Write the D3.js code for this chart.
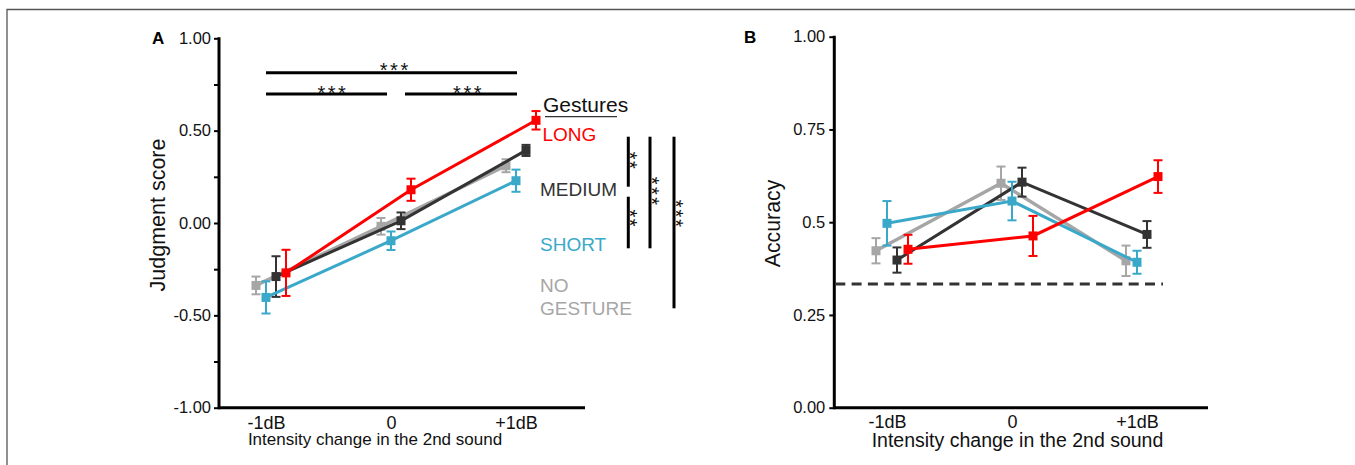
<!DOCTYPE html>
<html>
<head>
<meta charset="utf-8">
<script src="https://cdn.jsdelivr.net/npm/d3@7/dist/d3.min.js"></script>
<style>
  html, body { margin: 0; padding: 0; background: #fff; }
  svg text { font-family: "Liberation Sans", Arial, Helvetica, sans-serif; }
</style>
</head>
<body>
<svg id="chart" width="1355" height="465"></svg>
<script>
// ---------- data ----------
const categories = ["-1dB", "0", "+1dB"];
const seriesNames = ["NO GESTURE", "MEDIUM", "SHORT", "LONG"];

// Panel A: judgment score (mean, s.e.)
const judgeNone   = [-0.338, -0.018, 0.31];
const judgeNoneErr = [0.048, 0.045, 0.035];
const judgeMedium = [-0.29, 0.012, 0.393];
const judgeMediumErr = [0.11, 0.045, 0.03];
const judgeShort  = [-0.403, -0.096, 0.229];
const judgeShortErr = [0.087, 0.05, 0.06];
const judgeLong   = [-0.27, 0.18, 0.556];
const judgeLongErr = [0.125, 0.06, 0.05];

// Panel B: accuracy (mean, s.e.)
const accNone   = [0.423, 0.605, 0.396];
const accNoneErr = [0.034, 0.045, 0.041];
const accMedium = [0.398, 0.608, 0.467];
const accMediumErr = [0.034, 0.039, 0.036];
const accShort  = [0.497, 0.557, 0.392];
const accShortErr = [0.06, 0.052, 0.031];
const accLong   = [0.427, 0.463, 0.623];
const accLongErr = [0.039, 0.054, 0.044];
const chanceLevel = 1 / 3;

const ticksA = [-1, -0.75, -0.5, -0.25, 0, 0.25, 0.5, 0.75, 1];
const tickLabelsA = ["-1.00", "", "-0.50", "", "0.00", "", "0.50", "", "1.00"];
const ticksB = [0, 0.25, 0.5, 0.75, 1];
const tickLabelsB = ["0.00", "0.25", "0.5", "0.75", "1.00"];

// ---------- styles ----------
const colors = { "NO GESTURE": "#a6a6a6", "MEDIUM": "#333333", "SHORT": "#3aa9c9", "LONG": "#ff0000" };
const FONT = "'Liberation Sans', Arial, Helvetica, sans-serif";
const STAR_FONT = "'DejaVu Sans', sans-serif";

const svg = d3.select("#chart");

// figure frame (top + left)
svg.append("path").attr("d", "M7,465 V9.5 H1355").attr("fill", "none")
  .attr("stroke", "#555").attr("stroke-width", 1.3);

function drawSeries(g, x, y, offsets, dataSets) {
  dataSets.forEach(ds => {
    const pts = categories.map((c, i) => ({ x: x(c) + offsets[ds.name], v: ds.vals[i], e: ds.errs[i] }));
    const col = colors[ds.name];
    g.append("path").datum(pts)
      .attr("fill", "none").attr("stroke", col).attr("stroke-width", ds.name === "NO GESTURE" ? 3.5 : 3)
      .attr("d", d3.line().x(d => d.x).y(d => y(d.v)));
    const eb = g.append("g");
    pts.forEach(p => {
      eb.append("line").attr("x1", p.x).attr("x2", p.x).attr("y1", y(p.v - p.e)).attr("y2", y(p.v + p.e))
        .attr("stroke", col).attr("stroke-width", 2);
      [p.v - p.e, p.v + p.e].forEach(v => {
        eb.append("line").attr("x1", p.x - 4.5).attr("x2", p.x + 4.5).attr("y1", y(v)).attr("y2", y(v))
          .attr("stroke", col).attr("stroke-width", 2);
      });
      eb.append("rect").attr("x", p.x - 4.5).attr("y", y(p.v) - 4.5).attr("width", 9).attr("height", 9)
        .attr("fill", col);
    });
  });
}

// ================= Panel A =================
const gA = svg.append("g");
const xA = d3.scalePoint().domain(categories).range([266, 516]);
const yA = d3.scaleLinear().domain([-1, 1]).range([407.7, 38.3]);
const axLeftA = 219, axRightA = 585;

// y axis
const yAxisA = gA.append("g").attr("transform", `translate(${axLeftA},0)`)
  .call(d3.axisLeft(yA).tickValues(ticksA).tickSize(5).tickPadding(3)
    .tickFormat((d, i) => tickLabelsA[i]));
yAxisA.select(".domain").remove();
yAxisA.selectAll(".tick line").attr("stroke", "#000").attr("stroke-width", 2);
yAxisA.selectAll(".tick text").attr("font-size", 16.5).attr("font-family", FONT).attr("fill", "#111");
gA.append("line").attr("x1", axLeftA).attr("x2", axLeftA).attr("y1", yA(1) - 1).attr("y2", yA(-1) + 1.5)
  .attr("stroke", "#000").attr("stroke-width", 3);

// x axis
const xAxisA = gA.append("g").attr("transform", `translate(0,${yA(-1)})`)
  .call(d3.axisBottom(xA).tickSize(0));
xAxisA.select(".domain").remove();
xAxisA.selectAll(".tick text").attr("font-size", 18).attr("font-family", FONT).attr("fill", "#111")
  .attr("dy", null).attr("y", 21);
gA.append("line").attr("x1", axLeftA).attr("x2", axRightA).attr("y1", yA(-1)).attr("y2", yA(-1))
  .attr("stroke", "#000").attr("stroke-width", 3);

gA.append("text").attr("x", 375).attr("y", 445).attr("text-anchor", "middle")
  .attr("font-size", 17).attr("fill", "#111").text("Intensity change in the 2nd sound");
gA.append("text").attr("transform", "translate(165,215) rotate(-90)").attr("text-anchor", "middle")
  .attr("font-size", 21.5).attr("fill", "#111").text("Judgment score");
gA.append("text").attr("x", 152).attr("y", 44).attr("font-size", 17).attr("font-weight", "bold")
  .attr("fill", "#000").text("A");

const offsetsA = { "NO GESTURE": -10, "MEDIUM": 10, "SHORT": 0, "LONG": 20 };
drawSeries(gA, xA, yA, offsetsA, [
  { name: "NO GESTURE", vals: judgeNone, errs: judgeNoneErr },
  { name: "MEDIUM", vals: judgeMedium, errs: judgeMediumErr },
  { name: "SHORT", vals: judgeShort, errs: judgeShortErr },
  { name: "LONG", vals: judgeLong, errs: judgeLongErr }
]);

const STAR_FS = 20, STAR_C = 0.6 * STAR_FS;   // asterisk glyph centre above baseline

// significance brackets (horizontal)
function hBar(x1, x2, y, starsX, starsCY) {
  gA.append("line").attr("x1", x1).attr("x2", x2).attr("y1", y).attr("y2", y)
    .attr("stroke", "#000").attr("stroke-width", 3);
  const ls = 2.5;
  gA.append("text").attr("x", starsX + ls / 2).attr("y", starsCY + STAR_C).attr("text-anchor", "middle")
    .attr("font-family", STAR_FONT).attr("font-size", STAR_FS).attr("letter-spacing", ls)
    .attr("fill", "#111").text("***");
}
hBar(266, 517, 72.7, 394, 65);
hBar(266, 387, 94, 331.7, 88.3);
hBar(405, 517, 94, 467.3, 88.3);

// legend
gA.append("text").attr("x", 543).attr("y", 111.5).attr("font-size", 21).attr("fill", "#111").text("Gestures");
gA.append("line").attr("x1", 545).attr("x2", 617).attr("y1", 116.7).attr("y2", 116.7)
  .attr("stroke", "#333").attr("stroke-width", 1.3);
const legendRows = [
  { name: "LONG", lines: ["LONG"], y: 141, x: 542.5 },
  { name: "MEDIUM", lines: ["MEDIUM"], y: 196, x: 540 },
  { name: "SHORT", lines: ["SHORT"], y: 251, x: 540 },
  { name: "NO GESTURE", lines: ["NO", "GESTURE"], y: 291.7, x: 540 }
];
legendRows.forEach(r => {
  const t = gA.append("text").attr("font-size", 19).attr("fill", colors[r.name]);
  r.lines.forEach((l, i) => t.append("tspan").attr("x", r.x).attr("y", r.y + i * 23.3).text(l));
});

// significance brackets (vertical) - stars written downward
function vBar(x, y1, y2, starsX, starsCY, stars, ls) {
  gA.append("line").attr("x1", x).attr("x2", x).attr("y1", y1).attr("y2", y2)
    .attr("stroke", "#000").attr("stroke-width", 3);
  gA.append("text")
    .attr("transform", `translate(${starsX - STAR_C},${starsCY - ls / 2}) rotate(90)`)
    .attr("text-anchor", "middle").attr("font-family", STAR_FONT).attr("font-size", STAR_FS)
    .attr("letter-spacing", ls).attr("fill", "#111").text(stars);
}
vBar(628.3, 136.7, 186.7, 635, 161.7, "**", 1.5);
vBar(628.3, 196.7, 248.3, 635, 219.5, "**", 1.5);
vBar(650, 136.7, 248.3, 656.5, 193.3, "***", 2.5);
vBar(674, 136.7, 308.3, 681, 215.3, "***", 2);

// ================= Panel B =================
const gB = svg.append("g");
const xB = d3.scalePoint().domain(categories).range([887, 1137]);
const yB = d3.scaleLinear().domain([0, 1]).range([407.7, 36.7]);
const axLeftB = 834.3, axRightB = 1208;

const yAxisB = gB.append("g").attr("transform", `translate(${axLeftB},0)`)
  .call(d3.axisLeft(yB).tickValues(ticksB).tickSize(5).tickPadding(4)
    .tickFormat((d, i) => tickLabelsB[i]));
yAxisB.select(".domain").remove();
yAxisB.selectAll(".tick line").attr("stroke", "#000").attr("stroke-width", 2);
yAxisB.selectAll(".tick text").attr("font-size", 16.5).attr("font-family", FONT).attr("fill", "#111");
gB.append("line").attr("x1", axLeftB).attr("x2", axLeftB).attr("y1", yB(1) - 1).attr("y2", yB(0) + 1.5)
  .attr("stroke", "#000").attr("stroke-width", 3);

const xAxisB = gB.append("g").attr("transform", `translate(0,${yB(0)})`)
  .call(d3.axisBottom(xB).tickSize(0));
xAxisB.select(".domain").remove();
xAxisB.selectAll(".tick text").attr("font-size", 18).attr("font-family", FONT).attr("fill", "#111")
  .attr("dy", null).attr("y", 20);
gB.append("line").attr("x1", axLeftB).attr("x2", axRightB).attr("y1", yB(0)).attr("y2", yB(0))
  .attr("stroke", "#000").attr("stroke-width", 3);

gB.append("text").attr("x", 1017.5).attr("y", 447).attr("text-anchor", "middle")
  .attr("font-size", 19.5).attr("fill", "#111").text("Intensity change in the 2nd sound");
gB.append("text").attr("transform", "translate(780,223.5) rotate(-90)").attr("text-anchor", "middle")
  .attr("font-size", 21.3).attr("fill", "#111").text("Accuracy");
gB.append("text").attr("x", 744).attr("y", 43).attr("font-size", 17).attr("font-weight", "bold")
  .attr("fill", "#000").text("B");

// chance line
gB.append("line").attr("x1", axLeftB + 1).attr("x2", 1163).attr("y1", yB(chanceLevel)).attr("y2", yB(chanceLevel))
  .attr("stroke", "#333").attr("stroke-width", 3).attr("stroke-dasharray", "10,6.3");

const offsetsB = { "NO GESTURE": -11, "MEDIUM": 10, "SHORT": 0, "LONG": 21 };
drawSeries(gB, xB, yB, offsetsB, [
  { name: "NO GESTURE", vals: accNone, errs: accNoneErr },
  { name: "MEDIUM", vals: accMedium, errs: accMediumErr },
  { name: "SHORT", vals: accShort, errs: accShortErr },
  { name: "LONG", vals: accLong, errs: accLongErr }
]);
</script>
</body>
</html>
